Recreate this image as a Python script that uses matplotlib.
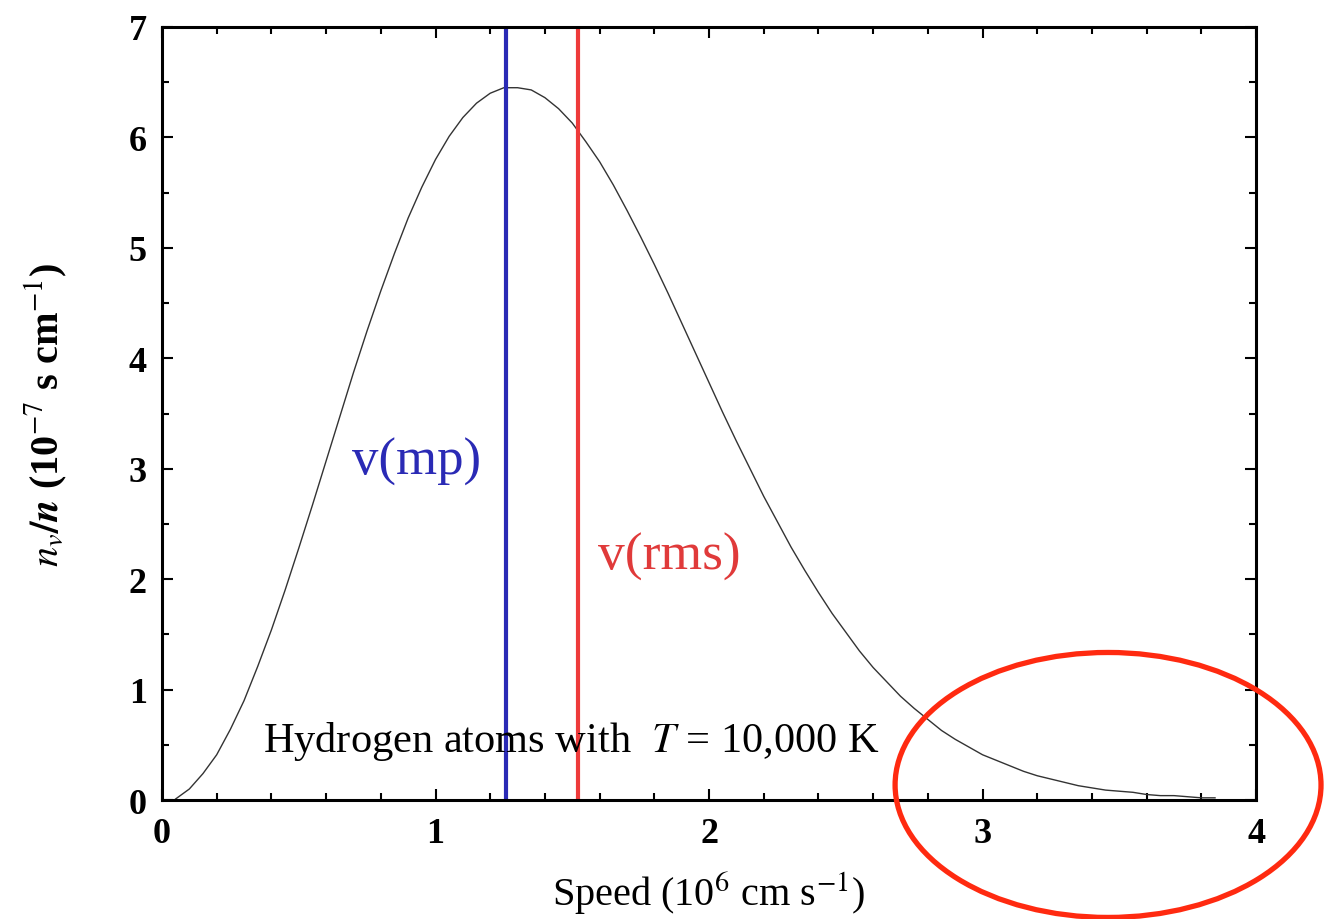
import matplotlib
matplotlib.use("Agg")
import matplotlib.pyplot as plt
from matplotlib.patches import Ellipse

# speed in 1e6 cm/s, n_v/n in 1e-7 s/cm
speed = [0.05, 0.10, 0.15, 0.20, 0.25, 0.30, 0.35, 0.40, 0.45, 0.50, 0.55,
         0.60, 0.65, 0.70, 0.75, 0.80, 0.85, 0.90, 0.95, 1.00, 1.05, 1.10,
         1.15, 1.20, 1.25, 1.30, 1.35, 1.40, 1.45, 1.50, 1.55, 1.60, 1.65,
         1.70, 1.75, 1.80, 1.85, 1.90, 1.95, 2.00, 2.05, 2.10, 2.15, 2.20,
         2.25, 2.30, 2.35, 2.40, 2.45, 2.50, 2.55, 2.60, 2.65, 2.70, 2.75,
         2.80, 2.85, 2.90, 2.95, 3.00, 3.05, 3.10, 3.15, 3.20, 3.25, 3.30,
         3.35, 3.40, 3.45, 3.50, 3.55, 3.60, 3.65, 3.70, 3.75, 3.80, 3.85]
frac = [0.01, 0.10, 0.24, 0.41, 0.64, 0.90, 1.21, 1.54, 1.90, 2.28, 2.67,
        3.07, 3.47, 3.87, 4.25, 4.61, 4.95, 5.27, 5.55, 5.80, 6.01, 6.18,
        6.31, 6.40, 6.45, 6.45, 6.43, 6.36, 6.26, 6.13, 5.96, 5.78, 5.57,
        5.34, 5.10, 4.85, 4.59, 4.32, 4.05, 3.78, 3.51, 3.25, 3.00, 2.75,
        2.52, 2.29, 2.08, 1.88, 1.69, 1.52, 1.35, 1.20, 1.07, 0.94, 0.83,
        0.73, 0.63, 0.55, 0.48, 0.41, 0.36, 0.31, 0.26, 0.22, 0.19, 0.16,
        0.13, 0.11, 0.09, 0.08, 0.07, 0.05, 0.04, 0.04, 0.03, 0.02, 0.02]

v_mp = 1.257
v_rms = 1.52

plt.rcParams['font.family'] = ['Liberation Serif', 'DejaVu Serif']
plt.rcParams['mathtext.fontset'] = 'stix'

fig = plt.figure(figsize=(13.31, 9.2), dpi=100)
ax = fig.add_axes([0.1217, 0.1293, 0.822, 0.8403])

ax.plot(speed, frac, color='#333333', lw=1.0)
ax.plot([v_mp, v_mp], [0, 7], color='#2a2ab5', lw=3)
ax.plot([v_rms, v_rms], [0, 7], color='#ee3a3a', lw=3)

ax.text(0.695, 3.07, 'v(mp)', color='#2a2ab5', fontsize=38, va='center')
ax.text(1.594, 2.21, 'v(rms)', color='#e03a3a', fontsize=38.5, va='center')
ax.text(0.37, 0.44, r'Hydrogen atoms with  $T$ = 10,000 K', fontsize=30.5,
        va='baseline')

ax.set_xlim(0, 4)
ax.set_ylim(0, 7)
ax.set_xticks([0, 1, 2, 3, 4])
ax.set_yticks(range(8))
ax.set_xticks([i * 0.2 for i in range(21)], minor=True)
ax.set_yticks([i * 0.5 for i in range(15)], minor=True)
ax.tick_params(which='both', direction='in', top=True, right=True, width=1.5)
ax.tick_params(which='major', length=8, labelsize=26)
ax.tick_params(which='minor', length=5)
ax.tick_params(axis='x', which='major', pad=12)
ax.tick_params(axis='y', which='major', pad=11)
for lab in ax.get_xticklabels() + ax.get_yticklabels():
    lab.set_fontweight('bold')
for s in ax.spines.values():
    s.set_linewidth(2.2)

ax.set_xlabel(r'Speed (10$^{6}$ cm s$^{-1}$)', fontsize=29)
ax.xaxis.label.set_va('baseline')
ax.xaxis.set_label_coords(0.4995, -0.1360)
ax.set_ylabel(r'$\boldsymbol{n_v/n}$ (10$^{-7}$ s cm$^{-1}$)', fontsize=29,
              fontweight='bold')
ax.yaxis.set_label_coords(-0.085, 0.5)

ell = Ellipse((0.8325, 0.1457), 0.320, 0.288, transform=fig.transFigure,
              fill=False, edgecolor='#ff2a10', lw=3.8, clip_on=False)
fig.patches.append(ell)

fig.savefig('out.png', dpi=100)
